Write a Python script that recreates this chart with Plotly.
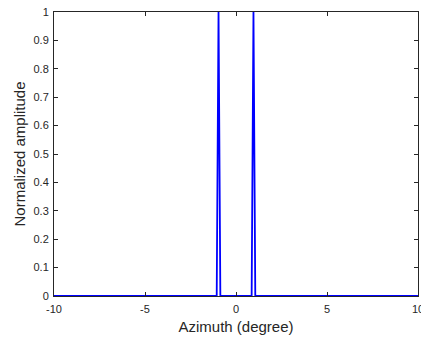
import plotly.graph_objects as go

# Data
azimuth = [-10.0, -1.06, -0.96, -0.86, 0.86, 0.96, 1.06, 10.0]
amplitude = [0.0, 0.0, 1.0, 0.0, 0.0, 1.0, 0.0, 0.0]

x_ticks = [-10, -5, 0, 5, 10]
y_ticks = [0, 0.1, 0.2, 0.3, 0.4, 0.5, 0.6, 0.7, 0.8, 0.9, 1]
y_tick_labels = ["0", "0.1", "0.2", "0.3", "0.4", "0.5", "0.6", "0.7", "0.8", "0.9", "1"]

axis_color = "#262626"
font_family = "Liberation Sans, Arial, sans-serif"

fig = go.Figure()
fig.add_trace(go.Scatter(
    x=azimuth, y=amplitude, mode="lines",
    line=dict(color="#0000FF", width=1.8),
    showlegend=False,
))

common = dict(
    showline=True, linecolor=axis_color, linewidth=1,
    mirror="ticks", ticks="inside", ticklen=4, tickwidth=1, tickcolor=axis_color,
    showgrid=False, zeroline=False, ticklabeloverflow="allow", automargin=False,
    tickfont=dict(family=font_family, size=11, color=axis_color),
)

fig.update_layout(
    width=421, height=339,
    margin=dict(l=54, r=3, t=12, b=43),
    paper_bgcolor="white", plot_bgcolor="white",
    xaxis=dict(
        range=[-10, 10], tickvals=x_ticks, ticktext=[str(v) for v in x_ticks],
        ticklabelstandoff=3,
        title=dict(text="Azimuth (degree)", font=dict(family=font_family, size=15, color=axis_color), standoff=7),
        **common,
    ),
    yaxis=dict(
        range=[0, 1], tickvals=y_ticks, ticktext=y_tick_labels,
        ticklabelstandoff=2,
        title=dict(text="Normalized amplitude", font=dict(family=font_family, size=15, color=axis_color), standoff=4),
        **common,
    ),
)

fig.write_html("out.html")
